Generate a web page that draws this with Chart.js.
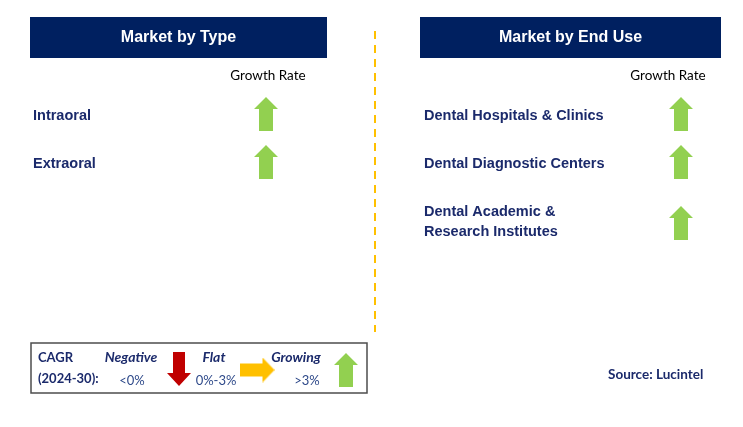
<!DOCTYPE html>
<html>
<head>
<meta charset="utf-8">
<script src="https://cdn.jsdelivr.net/npm/chart.js@4"></script>
<style>
html,body{margin:0;padding:0;background:#fff;}
#wrap{width:743px;height:427px;}
</style>
</head>
<body>
<div id="wrap"><canvas id="c" width="743" height="427"></canvas></div>
<script>
// ---- data ----
const panelTitles = ['Market by Type', 'Market by End Use'];
const columnLabel = 'Growth Rate';
const typeSegments = [['Intraoral'], ['Extraoral']];
const typeGrowth = ['up', 'up'];
const endUseSegments = [['Dental Hospitals & Clinics'], ['Dental Diagnostic Centers'], ['Dental Academic &', 'Research Institutes']];
const endUseGrowth = ['up', 'up', 'up'];
const legendTitle = ['CAGR', '(2024-30):'];
const legendNames = ['Negative', 'Flat', 'Growing'];
const legendRanges = ['<0%', '0%-3%', '>3%'];
const legendArrows = ['down', 'flat', 'up'];
const sourceText = 'Source: Lucintel';

// ---- styles ----
const NAVY = '#002060';
const TEXT = '#1b2a6b';
const GREEN = '#92D050';
const RED = '#C00000';
const YELLOW = '#FFC000';

function arrowCanvas(dir) {
  const c = document.createElement('canvas');
  const g = c.getContext('2d');
  if (dir === 'flat') {
    c.width = 35; c.height = 25;
    g.fillStyle = YELLOW;
    g.beginPath();
    g.moveTo(0, 6); g.lineTo(23, 6); g.lineTo(23, 0); g.lineTo(35, 12.5);
    g.lineTo(23, 25); g.lineTo(23, 19); g.lineTo(0, 19); g.closePath(); g.fill();
    return c;
  }
  c.width = 24; c.height = 34;
  g.fillStyle = dir === 'up' ? GREEN : RED;
  g.beginPath();
  if (dir === 'up') {
    g.moveTo(12, 0); g.lineTo(24, 12); g.lineTo(19, 12); g.lineTo(19, 34);
    g.lineTo(5, 34); g.lineTo(5, 12); g.lineTo(0, 12);
  } else {
    g.moveTo(12, 34); g.lineTo(24, 21); g.lineTo(18, 21); g.lineTo(18, 0);
    g.lineTo(6, 0); g.lineTo(6, 21); g.lineTo(0, 21);
  }
  g.closePath(); g.fill();
  return c;
}
const arrowImg = { up: arrowCanvas('up'), down: arrowCanvas('down'), flat: arrowCanvas('flat') };

// layout
const rowY = [116, 164, 222];
const leftArrowX = 266, rightArrowX = 681;
const legendArrowPos = [{x: 179, y: 369}, {x: 257, y: 370}, {x: 346, y: 370}];

const points = [];
typeGrowth.forEach((d, i) => points.push({x: leftArrowX, y: rowY[i] - 2, dir: d}));
endUseGrowth.forEach((d, i) => points.push({x: rightArrowX, y: rowY[i] + (endUseSegments[i].length > 1 ? 1 : -2), dir: d}));
legendArrows.forEach((d, i) => points.push({x: legendArrowPos[i].x, y: legendArrowPos[i].y, dir: d}));

const decor = {
  id: 'decor',
  beforeDatasetsDraw(chart) {
    const ctx = chart.ctx, xs = chart.scales.x, ys = chart.scales.y;
    const X = v => xs.getPixelForValue(v), Y = v => ys.getPixelForValue(v);
    ctx.save();
    // headers
    const headers = [[30, 327], [420, 721]];
    headers.forEach((h, i) => {
      ctx.fillStyle = NAVY;
      ctx.fillRect(X(h[0]), Y(17), X(h[1]) - X(h[0]), Y(58) - Y(17));
      ctx.fillStyle = '#fff';
      ctx.font = 'bold 16px "Liberation Sans", Arial, sans-serif';
      ctx.textAlign = 'center'; ctx.textBaseline = 'middle';
      ctx.fillText(panelTitles[i], X((h[0] + h[1]) / 2), Y(38));
    });
    // growth rate labels
    ctx.fillStyle = '#000';
    ctx.font = '13.5px Lato, "Open Sans", sans-serif';
    ctx.fillText(columnLabel, X(268), Y(76));
    ctx.fillText(columnLabel, X(668), Y(76));
    // segment labels
    ctx.fillStyle = TEXT;
    ctx.font = 'bold 14.5px "Liberation Sans", Arial, sans-serif';
    ctx.textAlign = 'left';
    typeSegments.forEach((lines, i) => {
      lines.forEach((t, j) => ctx.fillText(t, X(33), Y(rowY[i] + j * 20)));
    });
    endUseSegments.forEach((lines, i) => {
      const base = lines.length > 1 ? rowY[i] - 10 : rowY[i];
      lines.forEach((t, j) => ctx.fillText(t, X(424), Y(base + j * 20)));
    });
    // dashed divider
    ctx.strokeStyle = YELLOW; ctx.lineWidth = 2;
    ctx.setLineDash([8, 6]);
    ctx.beginPath(); ctx.moveTo(X(375), Y(31)); ctx.lineTo(X(375), Y(332)); ctx.stroke();
    ctx.setLineDash([]);
    // legend box
    ctx.strokeStyle = '#4d4d4d'; ctx.lineWidth = 1.5;
    ctx.strokeRect(X(31), Y(343), X(367) - X(31), Y(393) - Y(343));
    ctx.fillStyle = TEXT;
    ctx.font = 'bold 13px Lato, "Open Sans", sans-serif';
    ctx.fillText(legendTitle[0], X(38), Y(358));
    ctx.fillText(legendTitle[1], X(38), Y(379));
    ctx.textAlign = 'center';
    const nameX = [131, 214, 296];
    const rangeX = [132, 216, 307];
    ctx.font = 'italic bold 14px Lato, "Open Sans", sans-serif';
    legendNames.forEach((t, i) => ctx.fillText(t, X(nameX[i]), Y(357)));
    ctx.fillStyle = '#2f4a8a';
    ctx.font = '13px Lato, "Open Sans", sans-serif';
    legendRanges.forEach((t, i) => ctx.fillText(t, X(rangeX[i]), Y(381)));
    // source
    ctx.fillStyle = TEXT;
    ctx.textAlign = 'left';
    ctx.font = 'bold 13.5px Lato, "Open Sans", sans-serif';
    ctx.fillText(sourceText, X(608), Y(375));
    ctx.restore();
  }
};

new Chart(document.getElementById('c'), {
  type: 'scatter',
  data: {
    datasets: [{
      data: points,
      pointStyle: points.map(p => arrowImg[p.dir]),
      pointRadius: 12,
      pointHoverRadius: 12
    }]
  },
  options: {
    responsive: false,
    animation: false,
    events: [],
    layout: { padding: 0, autoPadding: false },
    plugins: { legend: { display: false }, tooltip: { enabled: false } },
    scales: {
      x: { type: 'linear', min: 0, max: 743, display: false },
      y: { type: 'linear', min: 0, max: 427, reverse: true, display: false }
    }
  },
  plugins: [decor]
});
</script>
</body>
</html>
